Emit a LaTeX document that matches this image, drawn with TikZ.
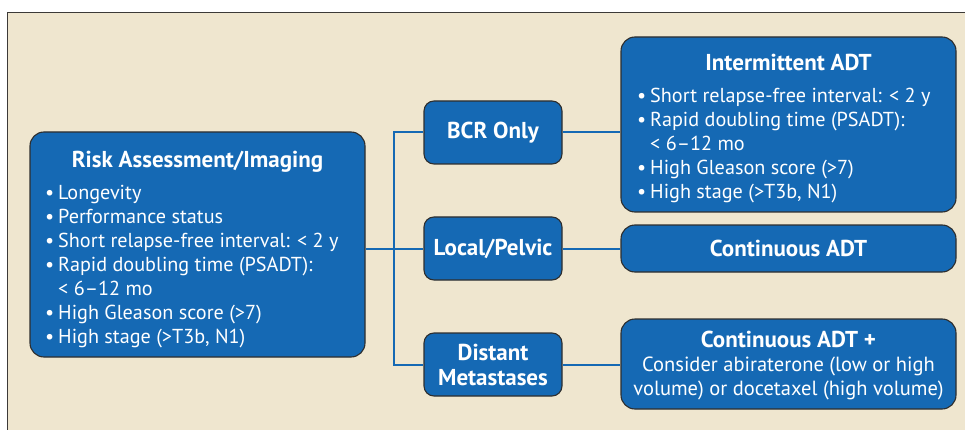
\documentclass[tikz,border=0pt]{standalone}
\usepackage{fontspec}
\setmainfont{PT Sans}
\definecolor{panel}{HTML}{EFE6CF}
\definecolor{boxblue}{HTML}{1569B4}
\definecolor{edge}{HTML}{2E2E2E}
\definecolor{paneledge}{HTML}{3C3A38}
\newcommand{\bl}{\makebox[13pt][l]{\textbullet}}
\newcommand{\cn}{\makebox[13pt][l]{}}
\begin{document}
\begin{tikzpicture}[x=1pt,y=-1pt,
 box/.style={draw=edge, line width=1.1pt, fill=boxblue, rounded corners=14pt, inner sep=0pt},
 smallbox/.style={box, rounded corners=10pt, minimum width=138pt, minimum height=63pt,
   text=white, font=\fontsize{23}{25}\selectfont\bfseries, align=center},
 conn/.style={draw=boxblue, line width=2pt},
 txt/.style={text=white, inner sep=0pt, font=\fontsize{20.2}{24}\selectfont, align=left},
 ttl/.style={text=white, inner sep=0pt, font=\fontsize{23}{24}\selectfont\bfseries, align=center}]
\useasboundingbox (0,0) rectangle (965,430);
\fill[panel] (7.5,12.5) rectangle (975,440);
\draw[paneledge, line width=1.8pt] (7.5,440) -- (7.5,12.5) -- (975,12.5);

% left box
\node[box, minimum width=335pt, minimum height=225pt] (risk) at (197.5,244.5) {};
\node[ttl] (risktitle) at (197.5,162) {Risk Assessment/Imaging};
\node[txt, anchor=north west] (risklist) at (45,185) {\bl Longevity\\ \bl Performance status\\ \bl Short relapse-free interval: < 2 y\\ \bl Rapid doubling time (PSADT):\\ \cn < 6--12 mo\\ \bl High Gleason score (>7)\\ \bl High stage (>T3b, N1)};

% middle boxes
\node[smallbox] (bcr) at (493,132.5) {BCR Only};
\node[smallbox] (local) at (493,248.5) {Local/Pelvic};
\node[smallbox] (dist) at (493,364.5) {Distant\\Metastases};

% right boxes
\node[box, minimum width=335pt, minimum height=175pt] (inter) at (788.5,124.5) {};
\node[ttl] (intertitle) at (788.5,62) {Intermittent ADT};
\node[txt, anchor=north west] (interlist) at (637,88) {\bl Short relapse-free interval: < 2 y\\ \bl Rapid doubling time (PSADT):\\ \cn < 6--12 mo\\ \bl High Gleason score (>7)\\ \bl High stage (>T3b, N1)};
\node[box, minimum width=335pt, minimum height=47pt, text=white, font=\fontsize{23}{24}\selectfont\bfseries] (cont) at (788.5,248.5) {Continuous ADT};
\node[box, minimum width=335pt, minimum height=90pt] (contplus) at (788.5,364) {};
\node[text=white, inner sep=0pt, align=center, font=\fontsize{20.5}{24}\selectfont] (contplustext) at (788.5,365.5) {{\fontsize{23}{24}\selectfont\bfseries Continuous ADT +}\\Consider abiraterone (low or high\\volume) or docetaxel (high volume)};

% connectors
\coordinate (trunk) at (394,248.5);
\draw[conn] (risk.east |- local.west) -- (local.west);
\draw[conn] (bcr.west) -| (trunk) |- (dist.west);
\draw[conn] (bcr.east) -- (bcr.east -| inter.west);
\draw[conn] (local.east) -- (cont.west);
\draw[conn] (dist.east) -- (dist.east -| contplus.west);
\end{tikzpicture}
\end{document}
